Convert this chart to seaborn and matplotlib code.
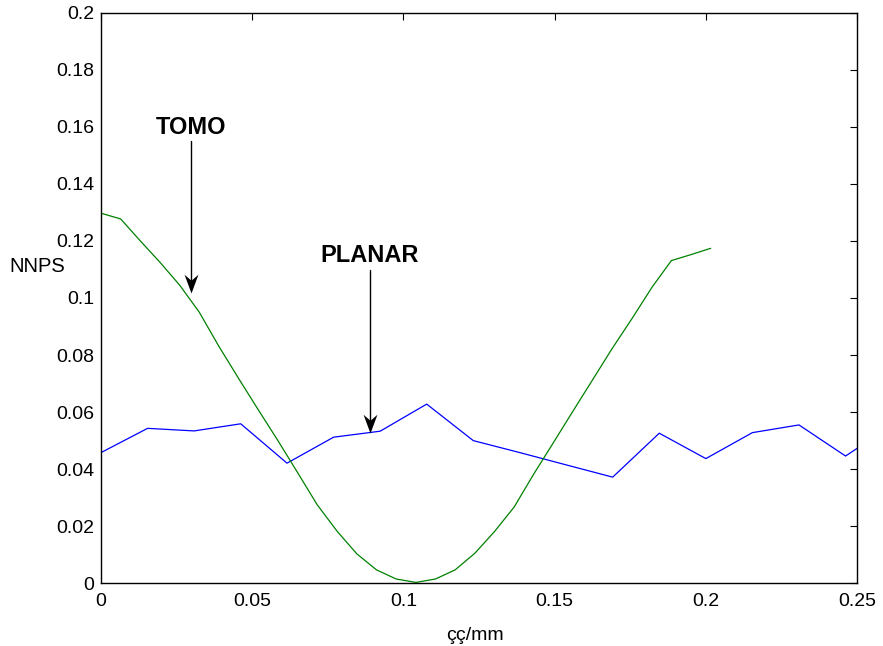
import matplotlib
matplotlib.use("Agg")
import matplotlib.pyplot as plt
import numpy as np
import pandas as pd
import seaborn as sns
from matplotlib.path import Path

# Planar acquisition NNPS
planar_freq = [0.0, 0.0154, 0.0308, 0.0462, 0.0615, 0.0769, 0.0923, 0.1077, 0.1231,
               0.1385, 0.1538, 0.1692, 0.1846, 0.2000, 0.2154, 0.2308, 0.2462, 0.2615]
planar_nnps = [0.0458, 0.0543, 0.0534, 0.0559, 0.0421, 0.0512, 0.0533, 0.0628, 0.0500,
               0.0458, 0.0415, 0.0372, 0.0526, 0.0437, 0.0528, 0.0555, 0.0446, 0.0553]

# Tomosynthesis NNPS
tomo_freq = [0.0, 0.0065, 0.0130, 0.0195, 0.0260, 0.0325, 0.0390, 0.0455, 0.0520, 0.0585,
             0.0650, 0.0715, 0.0781, 0.0846, 0.0911, 0.0976, 0.1041, 0.1106, 0.1171, 0.1236,
             0.1301, 0.1366, 0.1431, 0.1496, 0.1561, 0.1626, 0.1691, 0.1756, 0.1821, 0.1886,
             0.1951, 0.2016]
tomo_nnps = [0.1297, 0.1277, 0.1200, 0.1125, 0.1045, 0.0950, 0.0830, 0.0718, 0.0608, 0.0500,
             0.0388, 0.0275, 0.0182, 0.0103, 0.0047, 0.0015, 0.0003, 0.0015, 0.0047, 0.0105,
             0.0181, 0.0267, 0.0383, 0.0493, 0.0604, 0.0714, 0.0824, 0.0928, 0.1036, 0.1131,
             0.1152, 0.1174]

x_ticks = [0, 0.05, 0.1, 0.15, 0.2, 0.25]
x_tick_labels = ["0", "0.05", "0.1", "0.15", "0.2", "0.25"]
y_ticks = [0, 0.02, 0.04, 0.06, 0.08, 0.1, 0.12, 0.14, 0.16, 0.18, 0.2]
y_tick_labels = ["0", "0.02", "0.04", "0.06", "0.08", "0.1", "0.12", "0.14", "0.16", "0.18", "0.2"]

# Annotation anchors: (label x, label y, arrow top y, arrow tip y)
tomo_note = (0.0297, 0.1596, 0.1550, 0.1016)
planar_note = (0.0888, 0.1149, 0.1098, 0.0528)

sns.set_style("white")
plt.rcParams["font.family"] = ["Liberation Sans", "DejaVu Sans"]
plt.rcParams["text.color"] = "black"
plt.rcParams["axes.labelcolor"] = "black"

fig = plt.figure(figsize=(8.83, 6.46), dpi=100)
ax = fig.add_axes([0.1144, 0.0971, 0.8562, 0.8833])

planar_df = pd.DataFrame({"freq": planar_freq, "nnps": planar_nnps})
tomo_df = pd.DataFrame({"freq": tomo_freq, "nnps": tomo_nnps})

sns.lineplot(data=planar_df, x="freq", y="nnps", ax=ax, color="#0000ff",
             linewidth=0.9, estimator=None, sort=False)
sns.lineplot(data=tomo_df, x="freq", y="nnps", ax=ax, color="#008000",
             linewidth=0.9, estimator=None, sort=False)

ax.set_xlim(0, 0.25)
ax.set_ylim(0, 0.2)
ax.set_xticks(x_ticks)
ax.set_xticklabels(x_tick_labels)
ax.set_yticks(y_ticks)
ax.set_yticklabels(y_tick_labels)

ax.tick_params(direction="in", length=5, width=0.8, top=True, right=True,
               labelsize=14, colors="black")
ax.tick_params(axis="x", pad=7)
ax.tick_params(axis="y", pad=5)
for spine in ax.spines.values():
    spine.set_visible(True)
    spine.set_color("black")
    spine.set_linewidth(1.0)

ax.set_xlabel("çç/mm", fontsize=14, color="black")
ax.xaxis.set_label_coords(0.495, -0.077)
ax.set_ylabel("NNPS", fontsize=14.5, rotation=0, ha="center", va="center", color="black")
ax.yaxis.set_label_coords(-0.085, 0.555)

# Arrowhead shaped like a stealth arrow, tip at the origin, pointing down
head = Path([(0, 0), (-0.37, 1.0), (0, 0.68), (0.37, 1.0), (0, 0)],
            [Path.MOVETO, Path.LINETO, Path.LINETO, Path.LINETO, Path.CLOSEPOLY])

for label, (lx, ly, top, tip) in (("TOMO", tomo_note), ("PLANAR", planar_note)):
    ax.text(lx, ly, label, fontsize=17, fontweight="bold", ha="center", va="center",
            color="black")
    ax.plot([lx, lx], [top, tip + 0.004], color="black", linewidth=1.0)
    ax.plot([lx], [tip], marker=head, markersize=27, color="black",
            markeredgewidth=0, linestyle="none")

fig.savefig("out.png", dpi=100)
